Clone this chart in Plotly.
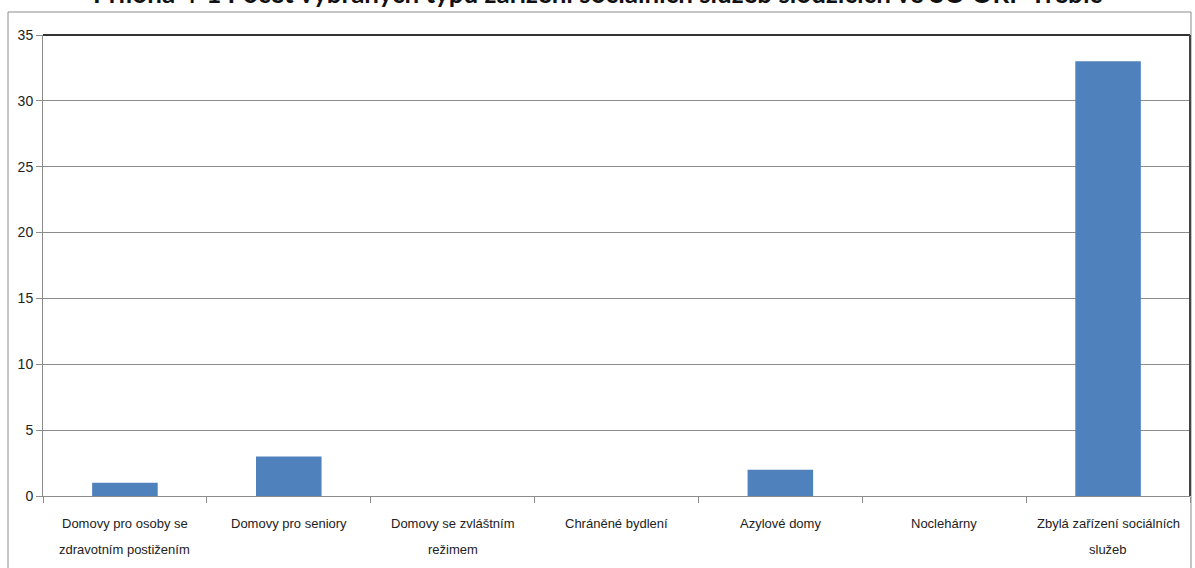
import plotly.graph_objects as go

title = "Příloha 4-1 Počet vybraných typů zařízení sociálních služeb sloužících ve SO ORP Třebíč"
categories = [
    "Domovy pro osoby se zdravotním postižením",
    "Domovy pro seniory",
    "Domovy se zvláštním režimem",
    "Chráněné bydlení",
    "Azylové domy",
    "Noclehárny",
    "Zbylá zařízení sociálních služeb",
]
label_lines = [
    ["Domovy pro osoby se", "zdravotním postižením"],
    ["Domovy pro seniory"],
    ["Domovy se zvláštním", "režimem"],
    ["Chráněné bydlení"],
    ["Azylové domy"],
    ["Noclehárny"],
    ["Zbylá zařízení sociálních", "služeb"],
]
values = [1, 3, 0, 0, 2, 0, 33]
y_ticks = [0, 5, 10, 15, 20, 25, 30, 35]

W, H = 1195, 568
L, R, T, B = 43, 5, 35, 72
pw, ph = W - L - R, H - T - B

def px(x):
    return (x - L) / pw

def py(y):
    return (H - B - y) / ph

font_fam = "Liberation Sans, Arial, sans-serif"

fig = go.Figure(go.Bar(
    x=categories, y=values,
    marker=dict(color="#4F81BD", line=dict(width=0)),
))

annotations = []
for cat, lines in zip(categories, label_lines):
    for i, ln in enumerate(lines):
        annotations.append(dict(
            x=cat, xref="x", y=py(523 + 26 * i), yref="paper",
            text=ln, showarrow=False, xanchor="center", yanchor="middle",
            font=dict(family=font_fam, size=13, color="#222222"),
        ))

fig.update_layout(
    width=W, height=H,
    margin=dict(l=L, r=R, t=T, b=B),
    paper_bgcolor="white", plot_bgcolor="white",
    showlegend=False,
    bargap=0.6,
    title=dict(text=title, x=0.5, xanchor="center", xref="container",
               y=1 - 3 / H, yref="container", yanchor="bottom",
               font=dict(family="Lato, Open Sans, sans-serif", size=26, color="#111111", weight="bold")),
    annotations=annotations,
    xaxis=dict(
        showticklabels=False, ticks="outside", tickson="boundaries", ticklen=6,
        tickcolor="#8c8c8c", showline=True, linecolor="#8c8c8c", linewidth=1,
        showgrid=False, zeroline=False,
    ),
    yaxis=dict(
        range=[0, 35], tickvals=y_ticks, ticks="outside", ticklen=6,
        tickcolor="#8c8c8c", showline=True, linecolor="#8c8c8c", linewidth=1,
        showgrid=True, gridcolor="#8c8c8c", gridwidth=1, zeroline=False,
        tickfont=dict(family=font_fam, size=14, color="#222222"),
    ),
    shapes=[
        dict(type="line", xref="paper", yref="paper", x0=0, x1=1, y0=1, y1=1,
             line=dict(color="#333333", width=2)),
        dict(type="line", xref="paper", yref="paper", x0=1, x1=1, y0=0, y1=1,
             line=dict(color="#444444", width=2)),
        dict(type="rect", xref="paper", yref="paper", x0=px(8), x1=px(1191),
             y0=py(620), y1=py(12), line=dict(color="#8c8c8c", width=1),
             fillcolor="rgba(0,0,0,0)", layer="below"),
    ],
)

fig.write_html("out.html", config={"displayModeBar": False},
               post_script="document.body.style.margin='0';document.body.style.overflow='hidden';")
